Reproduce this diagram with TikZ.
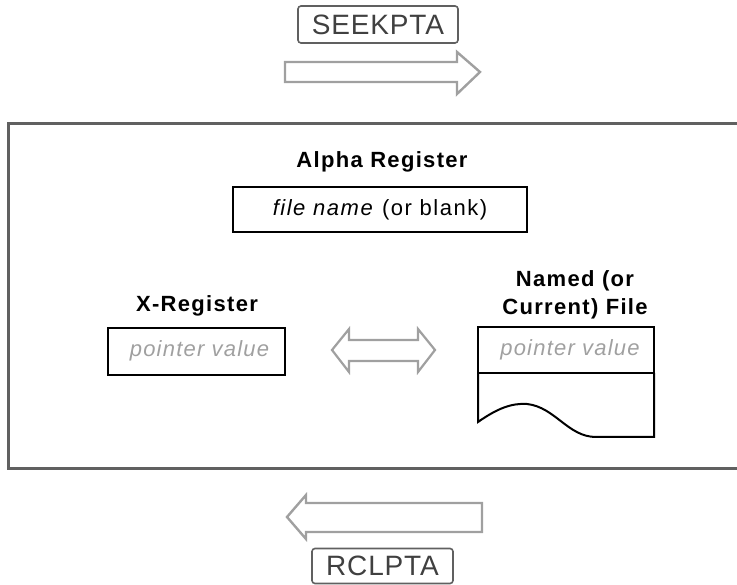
\documentclass[tikz,border=0pt]{standalone}
\usepackage{fontspec}
\setmainfont{Liberation Sans}
\definecolor{frame}{HTML}{606060}
\definecolor{arr}{HTML}{A0A0A0}
\definecolor{ghost}{HTML}{A0A0A0}
\tikzset{
  cmdbox/.style={draw=frame, line width=1.6pt, rounded corners=3pt, minimum height=36pt, inner sep=0pt, text=black!75, font=\fontsize{28}{28}\selectfont\addfontfeature{LetterSpace=3}},
  regbox/.style={draw=black, line width=2pt, inner sep=0pt},
  fatarrow/.style={draw=arr, line width=2.4pt, line join=miter, fill=white},
  title/.style={font=\bfseries\fontsize{22}{28}\selectfont\addfontfeature{LetterSpace=6}, align=center, anchor=base},
  ptr/.style={text=ghost, font=\itshape\fontsize{22}{22}\selectfont\addfontfeature{LetterSpace=5.5}}
}
\begin{document}
\begin{tikzpicture}[x=1pt,y=-1pt]
\useasboundingbox (0,0) rectangle (737,585);
% commands
\node[cmdbox, minimum width=160pt, minimum height=37pt] (seek) at (378,24.5) {SEEKPTA};
\node[cmdbox, minimum width=141pt, minimum height=35pt] (rcl) at (382.5,566) {RCLPTA};
% right arrow
\draw[fatarrow] (285,62) -- (457,62) -- (457,52) -- (480,72) -- (457,94) -- (457,82) -- (285,82) -- cycle;
% left arrow
\draw[fatarrow] (482,503) -- (306,503) -- (306,495) -- (287,517) -- (306,539) -- (306,532) -- (482,532) -- cycle;
% frame (its right side runs off the page)
\draw[draw=frame, line width=3pt, line join=miter] (745,123.5) -- (8,123.5) -- (8,469) -- (745,469);
% alpha register
\node[title] (atitle) at (382,168) {Alpha Register};
\node[regbox, minimum width=294pt, minimum height=45pt] (alpha) at (380,209.5)
  {\fontsize{22}{22}\selectfont\addfontfeature{LetterSpace=7}\textit{file name} (or blank)};
% X register
\node[title] (xtitle) at (197,312) {X-Register};
\node[regbox, minimum width=177pt, minimum height=47pt] (xreg) at (196.5,351.5) {};
\node[ptr] (xval) at (199.5,351) {pointer value};
% double arrow
\draw[fatarrow, line width=2.2pt] (332,350) -- (349,329) -- (349,340) -- (418,340) -- (418,329) -- (435,350) -- (418,372) -- (418,361) -- (349,361) -- (349,372) -- cycle;
% named file
\node[title, anchor=base] (ftitle1) at (575,287) {Named (or};
\node[title, anchor=base] (ftitle2) at (575,315) {Current) File};
\coordinate (ftl) at (478,327.5);
\coordinate (ftr) at (654,327.5);
\coordinate (fdl) at (478,373);
\coordinate (fdr) at (654,373);
\draw[black, line width=2pt, line join=miter] (fdl) -- (ftl) -- (ftr) -- (fdr) -- cycle;
\draw[black, line width=2pt, line join=miter] (fdl) -- (478,422)
  .. controls (498,408) and (512,403) .. (527,404)
  .. controls (555,407) and (568,437) .. (596,437)
  -- (654,437) -- (fdr);
\node[ptr] (fval) at (570,350) {pointer value};
\end{tikzpicture}
\end{document}
